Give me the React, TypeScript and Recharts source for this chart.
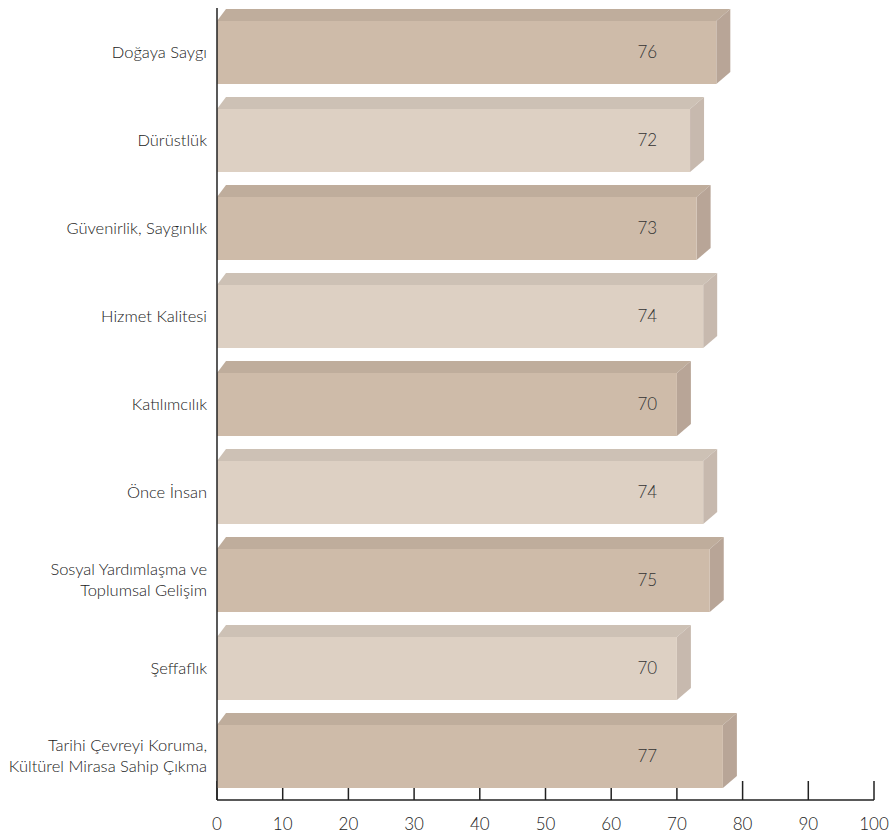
import React from 'react'
import { BarChart, Bar, XAxis, YAxis, LabelList, CartesianGrid } from 'recharts'

const categories = [
  'Doğaya Saygı',
  'Dürüstlük',
  'Güvenirlik, Saygınlık',
  'Hizmet Kalitesi',
  'Katılımcılık',
  'Önce İnsan',
  'Sosyal Yardımlaşma ve\nToplumsal Gelişim',
  'Şeffaflık',
  'Tarihi Çevreyi Koruma,\nKültürel Mirasa Sahip Çıkma',
]
const scores = [76, 72, 73, 74, 70, 74, 75, 70, 77]
const xTicks = [0, 10, 20, 30, 40, 50, 60, 70, 80, 90, 100]

const FONT = 'Lato, "Open Sans", sans-serif'

const DARK = { front: '#cebba9', top: '#bfad9c', side: '#b8a597' }
const LIGHT = { front: '#ddd0c3', top: '#cdc1b5', side: '#c7b9ae' }

const data = categories.map((name, i) => ({ name, score: scores[i], idx: i }))

const DY = 12 // depth vertical
const DX_R = 14 // depth horizontal on right
const DX_L = 9

function Bar3D(props: any) {
  const { x, y, width, height, payload } = props
  const c = payload.idx % 2 === 0 ? DARK : LIGHT
  const r = x + width
  return (
    <g>
      <polygon
        points={`${x},${y} ${x + DX_L},${y - DY} ${r + DX_R},${y - DY} ${r},${y}`}
        fill={c.top}
      />
      <polygon
        points={`${r},${y} ${r + DX_R},${y - DY} ${r + DX_R},${y + height - DY} ${r},${y + height}`}
        fill={c.side}
      />
      <rect x={x} y={y} width={width} height={height} fill={c.front} />
    </g>
  )
}

function CatTick(props: any) {
  const { x, y, payload } = props
  const lines = String(payload.value).split('\n')
  const lh = 21
  const start = y - ((lines.length - 1) * lh) / 2
  return (
    <text x={x - 2} y={start} textAnchor="end" fill="#222" fontFamily={FONT} fontSize={16.5} fontWeight={300}>
      {lines.map((l, i) => (
        <tspan key={i} x={x - 2} y={start + i * lh} dy="0.35em">
          {l}
        </tspan>
      ))}
    </text>
  )
}

function ValTick(props: any) {
  const { x, y, payload } = props
  return (
    <text x={x} y={y + 30} textAnchor="middle" fill="#222" fontFamily={FONT} fontSize={17} fontWeight={300}>
      {payload.value}
    </text>
  )
}

// tick marks pointing up, drawn behind the bars
function TickMark(props: any) {
  const { x1, x2, y2 } = props
  return <line key={props.key} x1={x1} x2={x2} y1={y2 - 19} y2={y2} stroke="#222" strokeWidth={1.5} />
}

function ValueLabel(props: any) {
  const { x, y, width, height, value } = props
  const px = x + (65.5 * width) / value
  return (
    <text x={px} y={y + height / 2} dy="0.35em" textAnchor="middle" fill="#333" fontFamily={FONT} fontSize={17} fontWeight={300}>
      {value}
    </text>
  )
}

export default function App() {
  return (
    <div style={{ position: 'absolute', left: 0, top: 0, background: '#fff' }}>
      <BarChart
        width={889}
        height={839}
        data={data}
        layout="vertical"
        barCategoryGap={0}
        margin={{ top: 8, right: 15, left: 0, bottom: 9 }}
      >
        <CartesianGrid horizontal={false} vertical={TickMark} />
        <XAxis
          type="number"
          domain={[0, 100]}
          ticks={xTicks}
          interval={0}
          tickSize={0}
          tickMargin={0}
          height={30}
          tick={<ValTick />}
          axisLine={{ stroke: '#222', strokeWidth: 1.5 }}
        />
        <YAxis
          type="category"
          dataKey="name"
          width={217}
          tickLine={false}
          tick={<CatTick />}
          interval={0}
          axisLine={{ stroke: '#222', strokeWidth: 1.5 }}
        />
        <Bar dataKey="score" barSize={63} shape={<Bar3D />} isAnimationActive={false}>
          <LabelList dataKey="score" content={<ValueLabel />} />
        </Bar>
      </BarChart>
    </div>
  )
}
